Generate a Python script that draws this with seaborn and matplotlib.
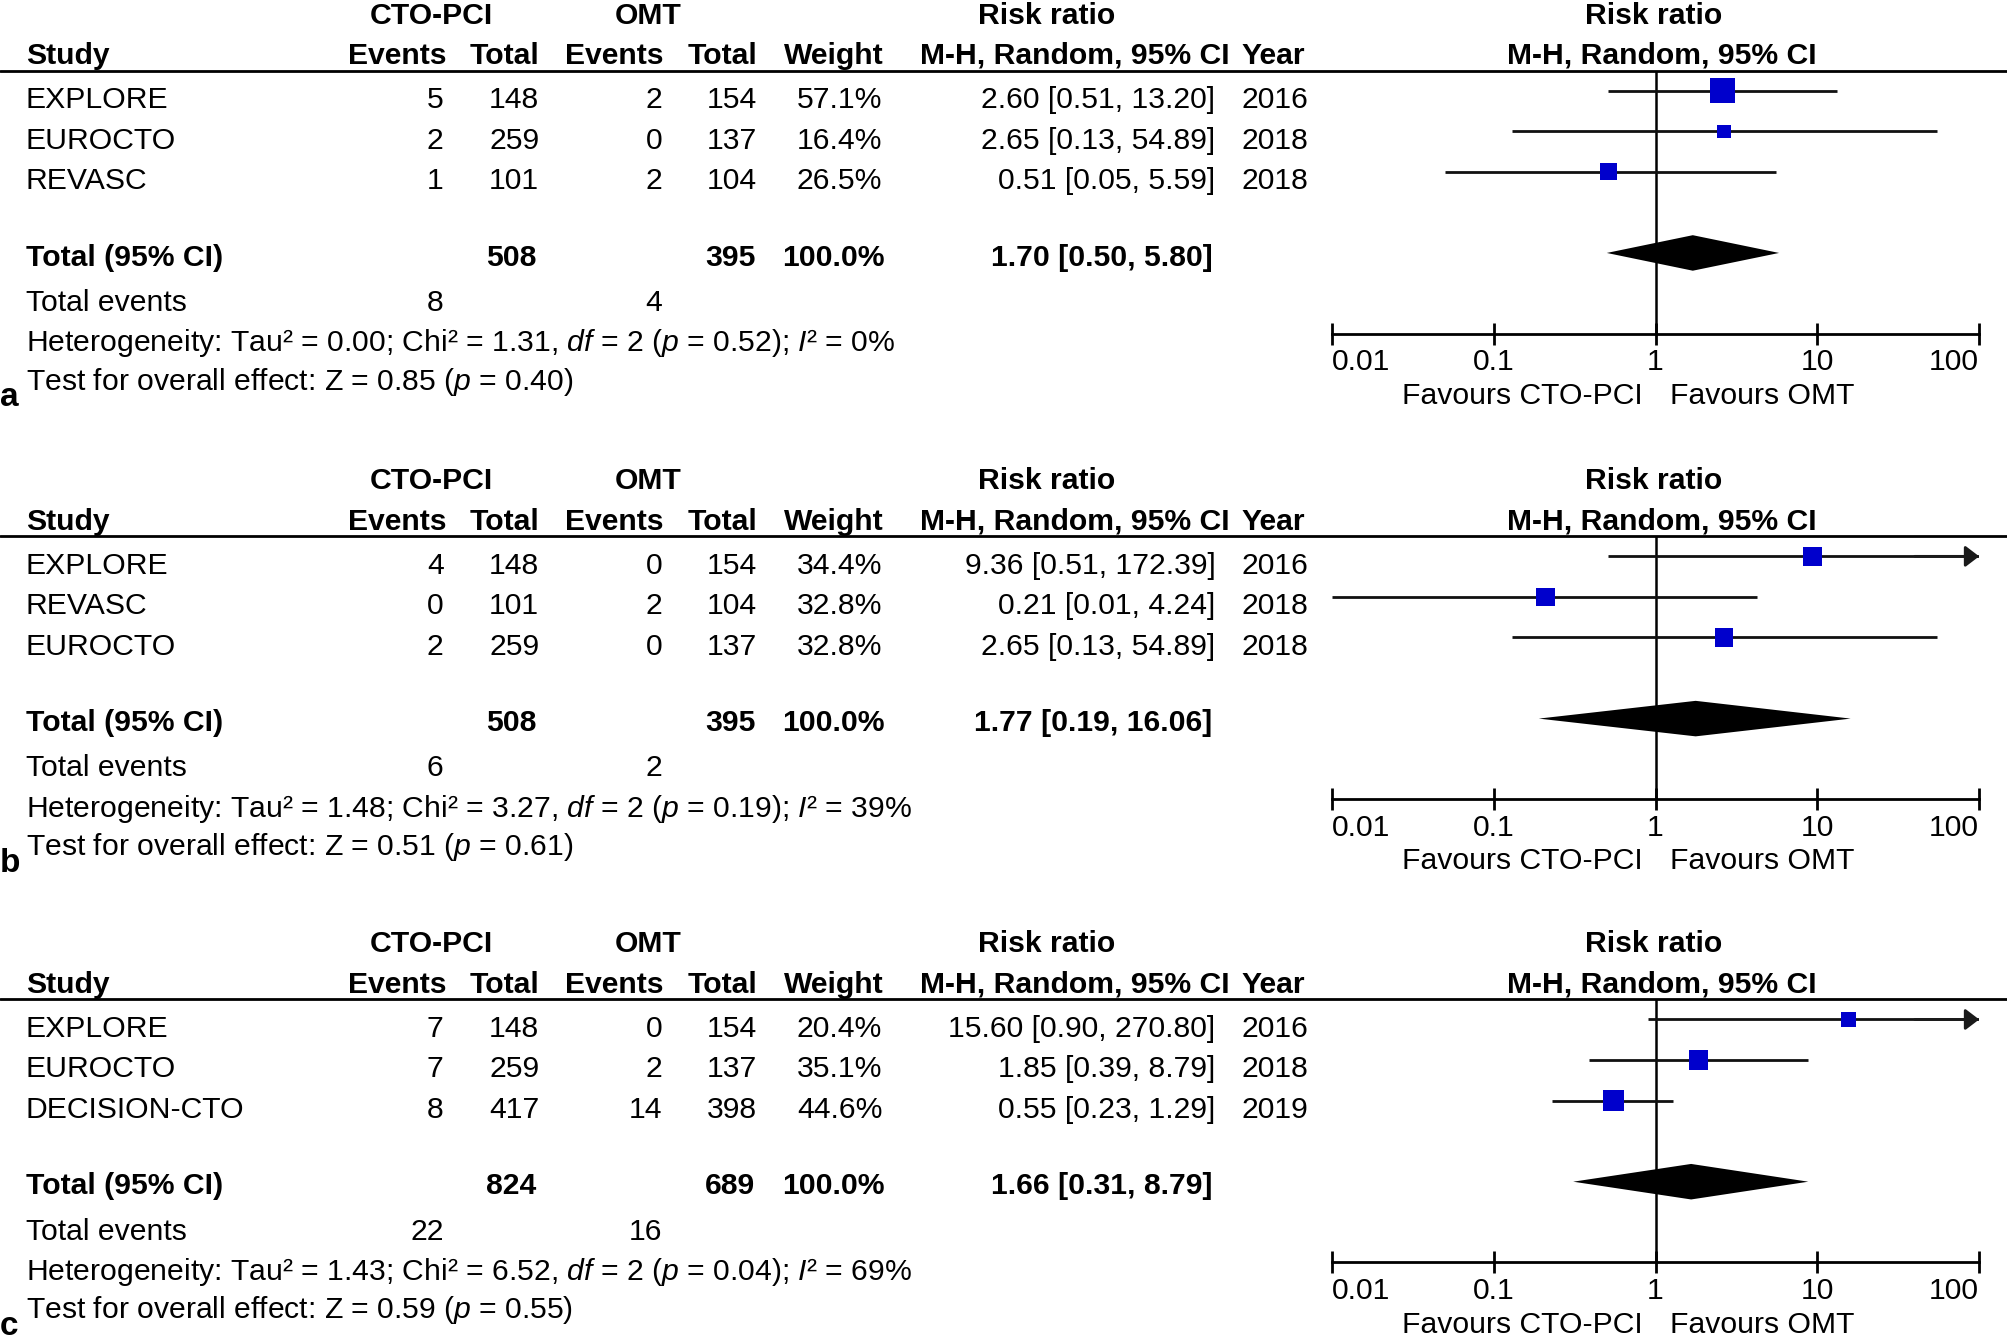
import numpy as np
import pandas as pd
import matplotlib
matplotlib.use("Agg")
import matplotlib.pyplot as plt
from matplotlib.ticker import NullLocator
import seaborn as sns

sns.set_theme(style="white")
plt.rcParams['font.family'] = ['Liberation Sans', 'DejaVu Sans']
plt.rcParams['mathtext.fontset'] = 'custom'
plt.rcParams['mathtext.rm'] = 'Liberation Sans'
plt.rcParams['mathtext.it'] = 'Liberation Sans:italic'
plt.rcParams['mathtext.bf'] = 'Liberation Sans:bold'

# ---------------- data ----------------
panel_labels = ['a', 'b', 'c']
studies = [["EXPLORE", "EUROCTO", "REVASC"],
           ["EXPLORE", "REVASC", "EUROCTO"],
           ["EXPLORE", "EUROCTO", "DECISION-CTO"]]
pci_events = [[5, 2, 1], [4, 0, 2], [7, 7, 8]]
pci_total = [[148, 259, 101], [148, 101, 259], [148, 259, 417]]
omt_events = [[2, 0, 2], [0, 2, 0], [0, 2, 14]]
omt_total = [[154, 137, 104], [154, 104, 137], [154, 137, 398]]
weights = [[57.1, 16.4, 26.5], [34.4, 32.8, 32.8], [20.4, 35.1, 44.6]]
rr = [[2.60, 2.65, 0.51], [9.36, 0.21, 2.65], [15.60, 1.85, 0.55]]
ci_low = [[0.51, 0.13, 0.05], [0.51, 0.01, 0.13], [0.90, 0.39, 0.23]]
ci_high = [[13.20, 54.89, 5.59], [172.39, 4.24, 54.89], [270.80, 8.79, 1.29]]
years = [[2016, 2018, 2018], [2016, 2018, 2018], [2016, 2018, 2019]]
total_pci = [508, 508, 824]
total_omt = [395, 395, 689]
pooled_rr = [1.70, 1.77, 1.66]
pooled_low = [0.50, 0.19, 0.31]
pooled_high = [5.80, 16.06, 8.79]
events_pci = [8, 6, 22]
events_omt = [4, 2, 16]
tau2 = ["0.00", "1.48", "1.43"]
chi2 = ["1.31", "3.27", "6.52"]
dfs = [2, 2, 2]
het_p = ["0.52", "0.19", "0.04"]
i2 = [0, 39, 69]
z_vals = ["0.85", "0.51", "0.59"]
z_p = ["0.40", "0.61", "0.55"]
ticks = [0.01, 0.1, 1, 10, 100]
tick_labels = ["0.01", "0.1", "1", "10", "100"]

# ---------------- layout ----------------
W, H = 1568.0, 1045.0
FS = 21.7
BLUE = '#0000CC'
offsets = [0.0, 364.5, 727.0]
ROW0 = 84.5      # baseline of first study row
STEP = 31.75     # row spacing
RULE = 55.2
AXIS_Y = 261.2
FOREST_ROW0 = 71.0

fig = plt.figure(figsize=(20.08, 13.35), dpi=100)
fig.patch.set_facecolor('white')
bg = fig.add_axes([0, 0, 1, 1])
bg.set_xlim(0, W)
bg.set_ylim(H, 0)
bg.axis('off')


def txt(x, y, s, ha='left', bold=False, size=FS):
    bg.text(x, y, s, ha=ha, va='baseline', fontsize=size,
            fontweight='bold' if bold else 'normal', color='black')


for p in range(3):
    off = offsets[p]
    # headers
    txt(337, 18.4 + off, "CTO-PCI", ha='center', bold=True)
    txt(506, 18.4 + off, "OMT", ha='center', bold=True)
    txt(817, 18.4 + off, "Risk ratio", ha='center', bold=True)
    txt(1291, 18.4 + off, "Risk ratio", ha='center', bold=True)
    hy = 50 + off
    txt(20, hy, "Study", bold=True)
    txt(348.6, hy, "Events", ha='right', bold=True)
    txt(421, hy, "Total", ha='right', bold=True)
    txt(518, hy, "Events", ha='right', bold=True)
    txt(591.6, hy, "Total", ha='right', bold=True)
    txt(689.7, hy, "Weight", ha='right', bold=True)
    txt(960, hy, "M-H, Random, 95% CI", ha='right', bold=True)
    txt(969.5, hy, "Year", bold=True)
    txt(1298, hy, "M-H, Random, 95% CI", ha='center', bold=True)
    bg.axhline(RULE + off, color='black', lw=2.0)

    # study rows
    for i in range(3):
        y = ROW0 + off + STEP * i
        txt(20, y, studies[p][i])
        txt(346.5, y, str(pci_events[p][i]), ha='right')
        txt(421, y, str(pci_total[p][i]), ha='right')
        txt(517, y, str(omt_events[p][i]), ha='right')
        txt(591, y, str(omt_total[p][i]), ha='right')
        txt(689, y, f"{weights[p][i]:.1f}%", ha='right')
        txt(949, y, f"{rr[p][i]:.2f} [{ci_low[p][i]:.2f}, {ci_high[p][i]:.2f}]", ha='right')
        txt(969.5, y, str(years[p][i]))

    # total row
    ty = 208 + off
    txt(20, ty, "Total (95% CI)", bold=True)
    txt(419, ty, str(total_pci[p]), ha='right', bold=True)
    txt(590, ty, str(total_omt[p]), ha='right', bold=True)
    txt(690.7, ty, "100.0%", ha='right', bold=True)
    txt(947, ty, f"{pooled_rr[p]:.2f} [{pooled_low[p]:.2f}, {pooled_high[p]:.2f}]", ha='right', bold=True)

    ey = 243.3 + off
    txt(20, ey, "Total events")
    txt(346.5, ey, str(events_pci[p]), ha='right')
    txt(517, ey, str(events_omt[p]), ha='right')

    txt(20, 275 + off,
        f"Heterogeneity: Tau² = {tau2[p]}; Chi² = {chi2[p]}, $\\mathit{{df}}$ = {dfs[p]} "
        f"($\\mathit{{p}}$ = {het_p[p]}); $\\mathit{{I}}$² = {i2[p]}%")
    txt(20, 305 + off,
        f"Test for overall effect: Z = {z_vals[p]} ($\\mathit{{p}}$ = {z_p[p]})")
    txt(0, 318 + off, panel_labels[p], bold=True, size=24)

    # ---------------- forest axes ----------------
    top_y = RULE + off
    bot_y = AXIS_Y + off
    ax = fig.add_axes([1040 / W, 1 - bot_y / H, 505.5 / W, (bot_y - top_y) / H])
    ax.set_facecolor('none')
    ax.set_xscale('log')
    ax.set_xlim(0.01, 100)
    ylo = (AXIS_Y - FOREST_ROW0) / STEP
    yhi = (RULE - FOREST_ROW0) / STEP
    ax.set_ylim(ylo, yhi)

    rows = np.arange(3)
    lo = np.array(ci_low[p]); hi = np.array(ci_high[p])
    ax.axvline(1, color='black', lw=1.8, zorder=1)
    ax.hlines(rows, np.clip(lo, 0.01, 100), np.clip(hi, 0.01, 100),
              color='#111111', lw=2.0, zorder=2)
    for i in rows:
        if hi[i] > 100:
            ax.annotate('', xy=(100, i), xytext=(40, i), xycoords='data',
                        annotation_clip=False,
                        arrowprops=dict(arrowstyle='-|>,head_length=0.42,head_width=0.32',
                                        mutation_scale=20, color='#1a1a1a', lw=2.0,
                                        shrinkA=0, shrinkB=0))
        if lo[i] < 0.01:
            ax.annotate('', xy=(0.01, i), xytext=(0.025, i), xycoords='data',
                        annotation_clip=False,
                        arrowprops=dict(arrowstyle='-|>,head_length=0.42,head_width=0.32',
                                        mutation_scale=20, color='#1a1a1a', lw=2.0,
                                        shrinkA=0, shrinkB=0))

    df = pd.DataFrame({'rr': rr[p], 'row': rows, 'w': weights[p]})
    sns.scatterplot(data=df, x='rr', y='row', size='w',
                    sizes={w: 5.5 * w for w in weights[p]},
                    marker='s', color=BLUE, linewidth=0, legend=False,
                    ax=ax, zorder=3)

    yd = (198 - FOREST_ROW0) / STEP
    hd = 13.9 / STEP
    ax.fill([pooled_low[p], pooled_rr[p], pooled_high[p], pooled_rr[p]],
            [yd, yd - hd, yd, yd + hd], color='black', lw=0, zorder=3)

    for s in ['top', 'right', 'left']:
        ax.spines[s].set_visible(False)
    ax.spines['bottom'].set_color('black')
    ax.spines['bottom'].set_linewidth(2.0)
    ax.set_xticks(ticks)
    ax.set_xticklabels(tick_labels)
    ax.xaxis.set_minor_locator(NullLocator())
    ax.set_yticks([])
    ax.set_xlabel('')
    ax.set_ylabel('')
    ax.tick_params(axis='x', which='major', bottom=True, direction='inout',
                   length=15.8, width=2.0, color='black', labelsize=FS,
                   labelcolor='black', pad=2.6)
    labs = ax.get_xticklabels()
    labs[0].set_horizontalalignment('left')
    labs[-1].set_horizontalalignment('right')
    ax.grid(False)

    ax.annotate('Favours CTO-PCI', xy=(1, 0), xycoords=ax.get_xaxis_transform(),
                xytext=(-9.2, -50.5), textcoords='offset points',
                ha='right', va='baseline', fontsize=FS, color='black',
                annotation_clip=False)
    ax.annotate('Favours OMT', xy=(1, 0), xycoords=ax.get_xaxis_transform(),
                xytext=(10.6, -50.5), textcoords='offset points',
                ha='left', va='baseline', fontsize=FS, color='black',
                annotation_clip=False)

fig.savefig('out.png', dpi=100, facecolor='white')
